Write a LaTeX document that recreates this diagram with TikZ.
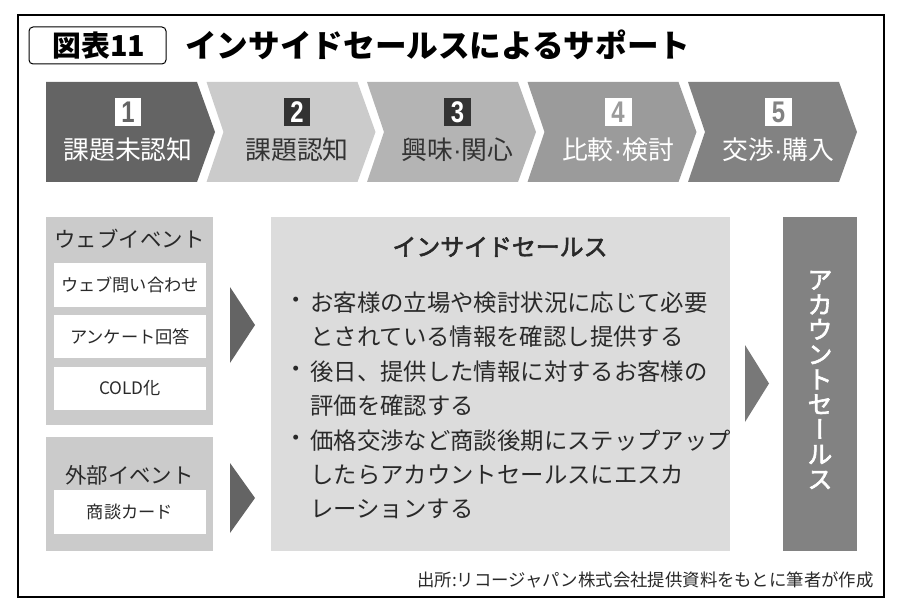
\documentclass[tikz,border=0pt]{standalone}
\usepackage{graphicx}
\usepackage{fontspec}
\setmainfont{Noto Sans CJK JP}
\newfontfamily\numfont{Liberation Sans}
\newfontfamily\medfont{Noto Sans CJK JP}[FakeBold=2.5]

\tikzset{
  steplabel/.style={inner sep=0pt, font=\fontsize{14.7pt}{14.7pt}\selectfont},
  stepnum/.style={inner sep=0pt, minimum width=0.54cm, minimum height=0.58cm, font=\numfont\bfseries\fontsize{17pt}{17pt}\selectfont},
  panellabel/.style={inner sep=0pt, font=\fontsize{12.2pt}{12.2pt}\selectfont},
  boxlabel/.style={inner sep=0pt, font=\fontsize{9.8pt}{9.8pt}\selectfont},
  bulletline/.style={anchor=west, inner sep=0pt, text=r40g40b40, font=\fontsize{13.3pt}{13.3pt}\selectfont},
  bulletdot/.style={inner sep=0pt, text=r40g40b40, font=\fontsize{13.3pt}{13.3pt}\selectfont},
}
\newcommand{\middot}{{\numfont ·}}

\begin{document}
\begin{tikzpicture}[x=0.02cm,y=-0.02cm]
                        \useasboundingbox (0,0) rectangle (900,615);
                        
                        % Changing colors
                        \definecolor{r40g40b40}{rgb}{0.160000,0.160000,0.160000}%
                        \definecolor{r51g51b51}{rgb}{0.200000,0.200000,0.200000}%
                        \definecolor{r100g100b100}{rgb}{0.392000,0.392000,0.392000}%
                        \definecolor{r203g203b203}{rgb}{0.796000,0.796000,0.796000}%
                        \definecolor{r180g180b180}{rgb}{0.706000,0.706000,0.706000}%
                        \definecolor{r155g155b155}{rgb}{0.608000,0.608000,0.608000}%
                        \definecolor{r130g130b130}{rgb}{0.510000,0.510000,0.510000}%
                        \definecolor{r220g220b220}{rgb}{0.863000,0.863000,0.863000}%
                        \definecolor{r120g120b120}{rgb}{0.470000,0.470000,0.470000}%
                        
                        % Drawing frame and title
                        \draw [line width=0.04cm] (18,15) rectangle (884,597);%
                        \draw [line width=0.02cm, rounded corners=2.3pt] (29,27) rectangle (166,64);%
                        \node [inner sep=0pt, font=\bfseries\fontsize{16.4pt}{16.4pt}\selectfont] (figno) at (99,45.5) {図表11};%
                        \node [anchor=west, inner sep=0pt, font=\bfseries\fontsize{18pt}{18pt}\selectfont] (title) at (185,45) {インサイドセールスによるサポート};%
                        
                        % Drawing step 1
                        \fill [r100g100b100] (46,82) -- (197,82) -- (215,132) -- (197,182) -- (46,182) -- cycle;%
                        \node [stepnum, fill=white, text=r100g100b100] (num1) at (128,112) {\scalebox{0.8}[1]{1}};%
                        \node [steplabel, text=white] (step1) at (128,150) {課題未認知};%
                        
                        % Drawing step 2
                        \fill [r203g203b203] (206.5,82) -- (357.5,82) -- (375.5,132) -- (357.5,182) -- (206.5,182) -- (223.5,132) -- cycle;%
                        \node [stepnum, fill=r51g51b51, text=white] (num2) at (297,112) {\scalebox{0.8}[1]{2}};%
                        \node [steplabel, text=r51g51b51] (step2) at (297,150) {課題認知};%
                        
                        % Drawing step 3
                        \fill [r180g180b180] (367,82) -- (518,82) -- (536,132) -- (518,182) -- (367,182) -- (384,132) -- cycle;%
                        \node [stepnum, fill=r51g51b51, text=white] (num3) at (457.5,112) {\scalebox{0.8}[1]{3}};%
                        \node [steplabel, text=r51g51b51] (step3) at (457.5,150) {興味\middot 関心};%
                        
                        % Drawing step 4
                        \fill [r155g155b155] (527.5,82) -- (678.5,82) -- (696.5,132) -- (678.5,182) -- (527.5,182) -- (544.5,132) -- cycle;%
                        \node [stepnum, fill=white, text=r155g155b155] (num4) at (618,112) {\scalebox{0.8}[1]{4}};%
                        \node [steplabel, text=white] (step4) at (618,150) {比較\middot 検討};%
                        
                        % Drawing step 5
                        \fill [r130g130b130] (688,82) -- (839,82) -- (857,132) -- (839,182) -- (688,182) -- (705,132) -- cycle;%
                        \node [stepnum, fill=white, text=r130g130b130] (num5) at (778.5,112) {\scalebox{0.8}[1]{5}};%
                        \node [steplabel, text=white] (step5) at (778.5,150) {交渉\middot 購入};%
                        
                        % Drawing web events
                        \fill [r203g203b203] (46,217) rectangle (213,425);%
                        \node [panellabel, text=r40g40b40] (webtitle) at (129.5,239) {ウェブイベント};%
                        \fill [white] (54,263) rectangle (206,307);%
                        \node [boxlabel, text=r40g40b40] (webform) at (130,285) {ウェブ問い合わせ};%
                        \fill [white] (54,315) rectangle (206,358);%
                        \node [boxlabel, text=r40g40b40] (survey) at (130,336.5) {アンケート回答};%
                        \fill [white] (54,367) rectangle (206,410);%
                        \node [boxlabel, text=r40g40b40] (cold) at (130,388.5) {COLD化};%
                        
                        % Drawing external events
                        \fill [r203g203b203] (46,437) rectangle (213,551);%
                        \node [panellabel, text=r40g40b40] (exttitle) at (129.5,475) {外部イベント};%
                        \fill [white] (54,490) rectangle (206,534);%
                        \node [boxlabel, text=r40g40b40] (card) at (130,512) {商談カード};%
                        
                        % Drawing arrows
                        \fill [r100g100b100] (230,287) -- (255,325) -- (230,363) -- cycle;%
                        \fill [r100g100b100] (230,463) -- (255,498) -- (230,533) -- cycle;%
                        \fill [r120g120b120] (745,345) -- (769,383.5) -- (745,422) -- cycle;%
                        
                        % Drawing inside sales
                        \fill [r220g220b220] (271,217) rectangle (730,551);%
                        \node [inner sep=0pt, text=r40g40b40, font=\medfont\fontsize{13.6pt}{13.6pt}\selectfont] (inside) at (500,247) {インサイドセールス};%
                        \node [bulletdot] (dot1) at (296,303) {・};%
                        \node [bulletline] (line1) at (310,303) {お客様の立場や検討状況に応じて必要};%
                        \node [bulletline] (line2) at (310,337) {とされている情報を確認し提供する};%
                        \node [bulletdot] (dot2) at (296,372) {・};%
                        \node [bulletline] (line3) at (310,372) {後日、提供した情報に対するお客様の};%
                        \node [bulletline] (line4) at (310,406) {評価を確認する};%
                        \node [bulletdot] (dot3) at (296,441) {・};%
                        \node [bulletline] (line5) at (310,441) {価格交渉など商談後期にステップアップ};%
                        \node [bulletline] (line6) at (310,475) {したらアカウントセールスにエスカ};%
                        \node [bulletline] (line7) at (310,509) {レーションする};%
                        
                        % Drawing account sales
                        \fill [r130g130b130] (783,217) rectangle (857,551);%
                        \node [inner sep=0pt, align=center, text=white, font=\medfont\fontsize{14pt}{14.2pt}\selectfont] (account) at (820,380) {ア\\カ\\ウ\\ン\\ト\\セ\\{\addfontfeatures{RawFeature=+vert}ー}\\ル\\ス};%
                        
                        % Drawing source
                        \node [anchor=east, inner sep=0pt, text=r40g40b40, font=\fontsize{9.9pt}{9.9pt}\selectfont] (source) at (874,580) {出所:リコージャパン株式会社提供資料をもとに筆者が作成};%
\end{tikzpicture}
\end{document}
